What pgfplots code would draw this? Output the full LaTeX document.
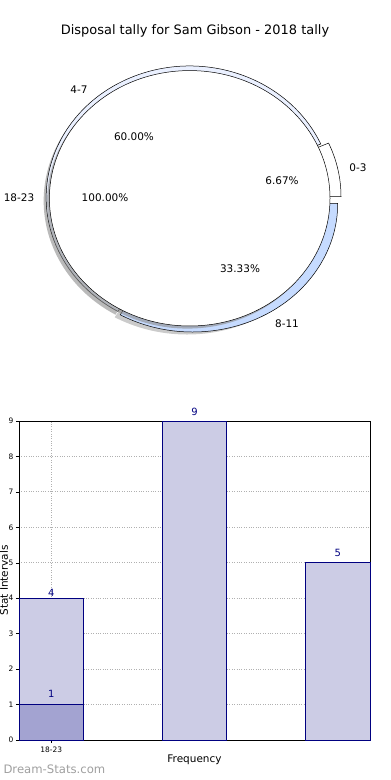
\documentclass[border=0pt]{standalone}
\usepackage{fontspec}
\setmainfont{DejaVu Sans}
\usepackage{pgfplots}
\pgfplotsset{compat=1.18}
\definecolor{navybar}{RGB}{0,0,128}
\definecolor{lightbar}{RGB}{204,204,229}
\definecolor{darkbar}{RGB}{163,163,209}
\definecolor{ringblue}{RGB}{198,219,255}
\definecolor{ringpale}{RGB}{234,240,255}
\definecolor{shadowgray}{RGB}{140,140,140}
\definecolor{gridgray}{RGB}{176,176,176}
\newcommand\piewedge[7]{\path[#7] (axis cs:#1,#2) -- ++(#3:#5bp and #6bp) arc[start angle=#3, end angle=#4, x radius=#5bp, y radius=#6bp] -- cycle;}
\newcommand\lbl{\fontsize{10.5}{12}\selectfont}
% pie data (percent)
\def\pZero{6.67}   % 0-3
\def\pFour{60.00}  % 4-7
\def\pEight{33.33} % 8-11
\def\pEighteen{100.00} % 18-23
\pgfmathsetmacro\aA{3.6*\pZero}
\pgfmathsetmacro\aB{\aA+3.6*\pFour}
\pgfmathsetmacro\aC{\aB+3.6*\pEight}
\begin{document}
\begin{tikzpicture}[x=1bp,y=1bp]
\path[use as bounding box] (0,0) rectangle (390,780);
\node[font=\fontsize{13}{15}\selectfont] at (195,749) {Disposal tally for Sam Gibson - 2018 tally};

\begin{axis}[at={(189.7bp,581.7bp)}, anchor=center, scale only axis,
  x=1bp, y=1bp, xmin=-190, xmax=190, ymin=-150, ymax=150,
  hide axis, clip=false]
  % outer ring shadows
  \piewedge{-2.5}{-2.5}{\aA}{\aB}{143.5}{131.5}{fill=shadowgray, opacity=0.6}
  \piewedge{-2.5}{-7.7}{\aB}{\aC}{145}{128.5}{fill=shadowgray, opacity=0.45}
  % outer ring wedges
  \piewedge{0}{0.8}{\aA}{\aB}{143.5}{131.5}{fill=ringpale, draw=black, line width=0.5pt}
  \piewedge{7.8}{1.7}{0}{\aA}{143.5}{131.5}{fill=white, draw=black, line width=0.5pt}
  \piewedge{3}{-5.2}{\aB}{\aC}{145}{128.5}{fill=ringblue, draw=black, line width=0.5pt}
  % inner full pie (18-23) with shadow
  \fill[shadowgray, opacity=0.6] (axis cs:-2.3,-2.6) ellipse [x radius=140.3bp, y radius=127.7bp];
  \filldraw[fill=white, draw=black, line width=0.5pt] (axis cs:0,0) ellipse [x radius=140.3bp, y radius=127.7bp];
  % labels
  \node[font=\lbl] at (axis cs:-110.7,108.3) {4-7};
  \node[font=\lbl] at (axis cs:168.3,30.3) {0-3};
  \node[font=\lbl] at (axis cs:-170.7,0.3) {18-23};
  \node[font=\lbl] at (axis cs:97.3,-125.7) {8-11};
  \node[font=\lbl] at (axis cs:-55.7,61.3) {60.00\%};
  \node[font=\lbl] at (axis cs:92.3,17.3) {6.67\%};
  \node[font=\lbl] at (axis cs:-84.7,0.3) {100.00\%};
  \node[font=\lbl] at (axis cs:50.3,-70.7) {33.33\%};
\end{axis}

\begin{axis}[at={(19bp,40bp)}, anchor=south west, scale only axis,
  width=351bp, height=319bp,
  xmin=-0.225, xmax=2.225, ymin=0, ymax=9,
  ytick={0,1,2,3,4,5,6,7,8,9}, xtick={0}, xticklabels={18-23},
  ymajorgrids, xmajorgrids,
  grid style={dotted, gridgray, line width=0.9pt},
  tick align=outside, major tick length=3bp, tick pos=left,
  tick style={black, line width=0.5pt},
  ticklabel style={font=\fontsize{7.5}{9}\selectfont},
  yticklabel style={xshift=1bp},
  /pgf/number format/assume math mode=true,
  axis line style={line width=0.8pt},
  xlabel={Frequency}, ylabel={Stat Intervals},
  label style={font=\fontsize{10.5}{12}\selectfont},
  xlabel style={at={(axis description cs:0.5,-0.0627)}, anchor=center},
  ylabel style={at={(axis description cs:-0.0427,0.5)}, anchor=center},
  ybar, bar width=0.45, bar shift=0pt, clip=false,
  nodes near coords,
  every node near coord/.append style={font=\fontsize{10}{12}\selectfont, text=navybar},
]
\addplot[draw=navybar, fill=lightbar, line width=0.8pt,
  every node near coord/.append style={yshift=-2.3bp}] coordinates {(0,4)};
\addplot[draw=navybar, fill=lightbar, line width=0.8pt,
  every node near coord/.append style={yshift=2bp}] coordinates {(1,9) (2,5)};
\addplot[draw=navybar, fill=darkbar, line width=0.8pt,
  every node near coord/.append style={yshift=3bp}] coordinates {(0,1)};
\end{axis}
\node[anchor=base west, text=gray!75, font=\fontsize{11.7}{13}\selectfont] at (0,6.5) {Dream-Stats.com};
\end{tikzpicture}
\end{document}
